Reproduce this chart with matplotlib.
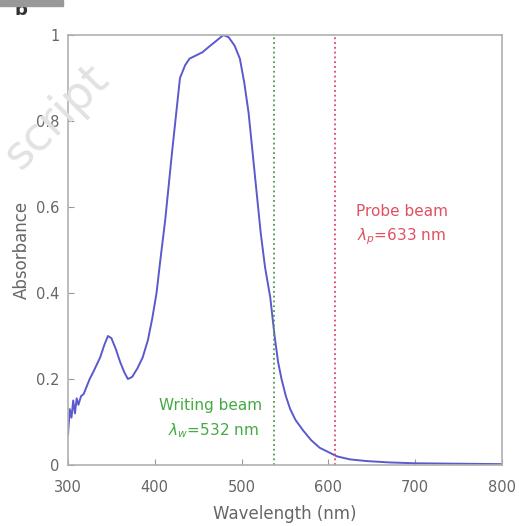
import numpy as np
import matplotlib.pyplot as plt
from matplotlib.patches import Rectangle

# absorbance spectrum
wavelength = [300, 302, 304, 306, 308, 310, 312, 315, 318, 321, 325, 330, 337, 342, 346,
              350, 355, 360, 365, 369, 374, 380, 386, 392, 397, 402, 406, 412, 420, 429,
              435, 440, 447, 455, 462, 470, 479, 485, 492, 498, 503, 508, 513, 518, 522,
              527, 533, 538, 542, 546, 551, 556, 562, 571, 580, 590, 600, 610, 625, 645,
              670, 700, 750, 800]
absorbance = [0.07, 0.13, 0.11, 0.15, 0.12, 0.155, 0.14, 0.16, 0.165, 0.18, 0.2, 0.22, 0.25, 0.28, 0.30,
              0.295, 0.27, 0.24, 0.215, 0.20, 0.205, 0.225, 0.25, 0.29, 0.34, 0.40, 0.47, 0.57, 0.73, 0.90,
              0.93, 0.945, 0.952, 0.96, 0.972, 0.985, 1.0, 0.995, 0.975, 0.945, 0.89, 0.82, 0.72, 0.62, 0.54,
              0.46, 0.39, 0.30, 0.24, 0.20, 0.16, 0.13, 0.105, 0.08, 0.058, 0.04, 0.03, 0.02, 0.013, 0.009,
              0.006, 0.004, 0.003, 0.002]

writing_nm = 537
probe_nm = 608

xticks = [300, 400, 500, 600, 700, 800]
yticks = [0, 0.2, 0.4, 0.6, 0.8, 1]
yticklabels = ['0', '0.2', '0.4', '0.6', '0.8', '1']

fig = plt.figure(figsize=(5.19, 5.26), dpi=100)
ax = fig.add_axes([68/519, 61/526, 434/519, 430/526])

ax.plot(wavelength, absorbance, color='#5a5acc', lw=1.4)
ax.axvline(writing_nm, color='#4f9a4f', ls=':', lw=1.3)
ax.axvline(probe_nm, color='#dd4466', ls=':', lw=1.3)

ax.set_xlim(300, 800)
ax.set_ylim(0, 1)
ax.set_xticks(xticks)
ax.set_yticks(yticks)
ax.set_yticklabels(yticklabels)
ax.tick_params(direction='in', length=4, colors='#999999', labelcolor='#666666', labelsize=10.5)
ax.tick_params(axis='x', pad=11)
ax.tick_params(axis='y', pad=6)
for s in ax.spines.values():
    s.set_color('#b0b0b0')
    s.set_linewidth(1.2)

ax.set_xlabel('Wavelength (nm)', fontsize=12, color='#666666', labelpad=7)
ax.set_ylabel('Absorbance', fontsize=12, color='#666666', labelpad=4)

ax.text(464, 0.138, 'Writing beam', color='#44aa44', fontsize=11, ha='center', va='center')
ax.text(468, 0.08, r'$\lambda_w$=532 nm', color='#44aa44', fontsize=11, ha='center', va='center')
ax.text(685, 0.59, 'Probe beam', color='#e05060', fontsize=11, ha='center', va='center')
ax.text(684, 0.53, r'$\lambda_p$=633 nm', color='#e05060', fontsize=11, ha='center', va='center')

# panel letter, banner strip and watermark seen in the reference
fig.text(21/519, 1 - 10/526, 'b', fontsize=13, fontweight='bold', color='#333333',
         ha='center', va='center')
fig.patches.append(Rectangle((0, 1 - 6/526), 63/519, 6/526, transform=fig.transFigure,
                             color='#999999', zorder=5))
fig.text(102/519, 1 - 72/526, 'script', fontsize=33, color='#e2e2e2', rotation=45,
         rotation_mode='anchor', ha='right', va='center', zorder=0)

fig.savefig('out.png', dpi=100)
